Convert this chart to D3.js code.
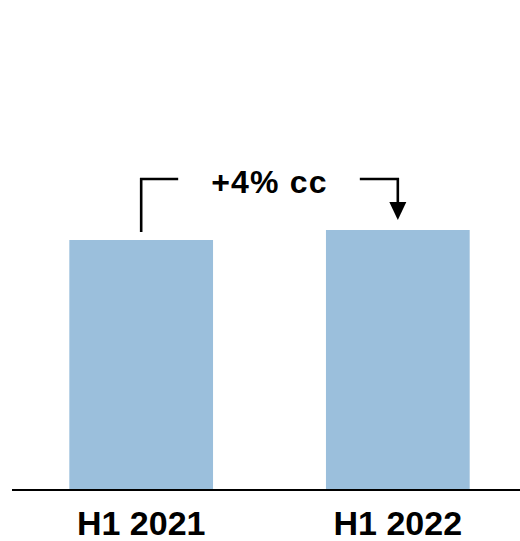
<!DOCTYPE html>
<html>
<head>
<meta charset="utf-8">
<script src="https://cdn.jsdelivr.net/npm/d3@7"></script>
<style>
  html, body { margin: 0; padding: 0; background: #fff; }
  svg { display: block; }
  text { font-family: "Liberation Sans", Arial, sans-serif; font-weight: bold; fill: #000; }
</style>
</head>
<body>
<svg id="chart" width="520" height="541"></svg>
<script>
// Half-year periods and their indexed values (H1 2021 = 100)
const periods = ["H1 2021", "H1 2022"];
const values = [100, 104];
const growthLabel = "+4% cc";

const svg = d3.select("#chart");
const baseY = 490;

const x = d3.scaleBand()
  .domain(periods)
  .range([-59, 598])
  .paddingInner(0.44)
  .paddingOuter(0.5);

const y = d3.scaleLinear()
  .domain([0, 196])
  .range([baseY, 0]);

// Bars
svg.append("g")
  .selectAll("rect")
  .data(periods)
  .join("rect")
  .attr("x", d => x(d))
  .attr("width", x.bandwidth())
  .attr("y", (d, i) => y(values[i]))
  .attr("height", (d, i) => baseY - y(values[i]))
  .attr("fill", "#9bbfdc");

// Baseline
svg.append("line")
  .attr("x1", 12).attr("x2", 520)
  .attr("y1", baseY).attr("y2", baseY)
  .attr("stroke", "#000")
  .attr("stroke-width", 2.2);

// Category labels
svg.append("g")
  .selectAll("text")
  .data(periods)
  .join("text")
  .attr("x", d => x(d) + x.bandwidth() / 2)
  .attr("y", 535)
  .attr("text-anchor", "middle")
  .attr("font-size", 34)
  .text(d => d);

// Growth bracket between the two bars
const cx0 = x(periods[0]) + x.bandwidth() / 2;
const cx1 = x(periods[1]) + x.bandwidth() / 2;
const bracketY = 179;
const top0 = y(values[0]);
const top1 = y(values[1]);

svg.append("path")
  .attr("d", `M${cx0},${top0 - 8}V${bracketY}H${cx0 + 37}`)
  .attr("fill", "none")
  .attr("stroke", "#000")
  .attr("stroke-width", 2.6);

svg.append("path")
  .attr("d", `M${cx1 - 38},${bracketY}H${cx1}V${top1 - 26}`)
  .attr("fill", "none")
  .attr("stroke", "#000")
  .attr("stroke-width", 2.6);

svg.append("path")
  .attr("d", `M${cx1 - 8.5},${top1 - 28}L${cx1 + 8.5},${top1 - 28}L${cx1},${top1 - 10}Z`)
  .attr("fill", "#000");

svg.append("text")
  .attr("x", (cx0 + cx1) / 2)
  .attr("y", 193)
  .attr("text-anchor", "middle")
  .attr("font-size", 32)
  .attr("letter-spacing", 1.2)
  .text(growthLabel);
</script>
</body>
</html>
